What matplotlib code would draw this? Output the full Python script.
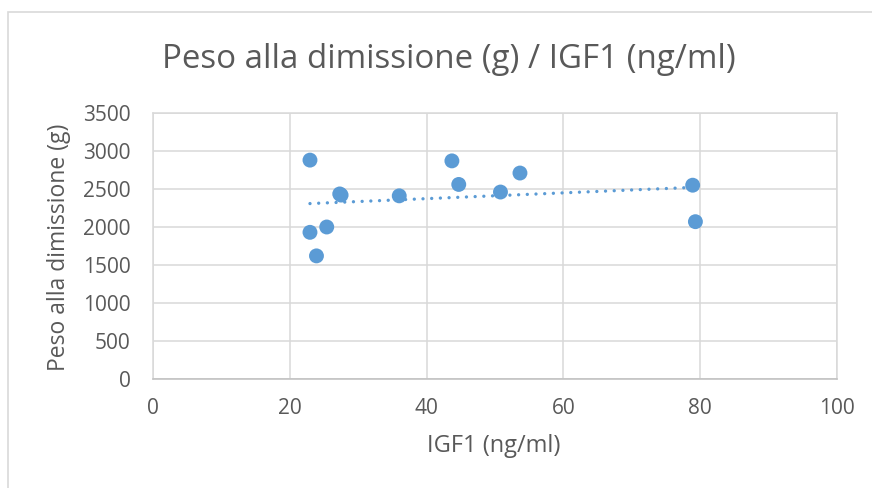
import numpy as np
import matplotlib
matplotlib.use("Agg")
import matplotlib.pyplot as plt
from matplotlib.patches import Rectangle

plt.rcParams['font.family'] = ['Open Sans', 'DejaVu Sans']

# Data
igf1 = [22.95, 27.3, 27.5, 36.0, 43.7, 44.7, 50.8, 53.65, 22.95, 25.4, 23.9, 78.9, 79.3]
peso = [2880, 2435, 2420, 2410, 2870, 2560, 2460, 2710, 1930, 2000, 1620, 2550, 2070]

title = "Peso alla dimissione (g) / IGF1 (ng/ml)"
xlabel = "IGF1 (ng/ml)"
ylabel = "Peso alla dimissione (g)"
xticks = [0, 20, 40, 60, 80, 100]
yticks = [0, 500, 1000, 1500, 2000, 2500, 3000, 3500]

W, H = 872, 488
fig = plt.figure(figsize=(W / 100, H / 100), dpi=100)
fig.patch.set_facecolor('white')

# outer chart border
fig.patches.append(Rectangle((8 / W, -0.05), (W + 20) / W, (H - 12) / H + 0.05,
                             transform=fig.transFigure, fill=False,
                             edgecolor='#d9d9d9', linewidth=1.2))

ax = fig.add_axes([153 / W, 1 - 379 / H, (837 - 153) / W, (379 - 113) / H])

blue = '#5B9BD5'
grid_c = '#d9d9d9'
text_c = '#595959'

x = np.array(igf1)
y = np.array(peso)

# trendline (linear regression)
m, b = np.polyfit(x, y, 1)
xt = np.array([x.min(), x.max()])
ax.plot(xt, m * xt + b, color=blue, linewidth=2.4,
        linestyle=(0, (0.01, 2.6)), dash_capstyle='round', zorder=2)

ax.scatter(x, y, s=115, color=blue, edgecolors='none', zorder=3)

ax.set_xlim(0, 100)
ax.set_ylim(0, 3500)
ax.set_xticks(xticks)
ax.set_yticks(yticks)
ax.grid(True, color=grid_c, linewidth=1.1)
ax.set_axisbelow(True)
for s in ax.spines.values():
    s.set_color(grid_c)
    s.set_linewidth(1.1)
ax.spines['bottom'].set_color('#bfbfbf')
ax.tick_params(length=0, labelsize=15, labelcolor=text_c)
ax.tick_params(axis='x', pad=14)
ax.tick_params(axis='y', pad=16)

fig.text(449 / W, 1 - 60 / H, title, ha='center', va='center', fontsize=23.8, color=text_c)
fig.text(494 / W, 1 - 446 / H, xlabel, ha='center', va='center', fontsize=17, color=text_c)
fig.text(59 / W, 1 - 247 / H, ylabel, ha='center', va='center', fontsize=16.5,
         color=text_c, rotation=90)

fig.savefig('out.png', dpi=100)
